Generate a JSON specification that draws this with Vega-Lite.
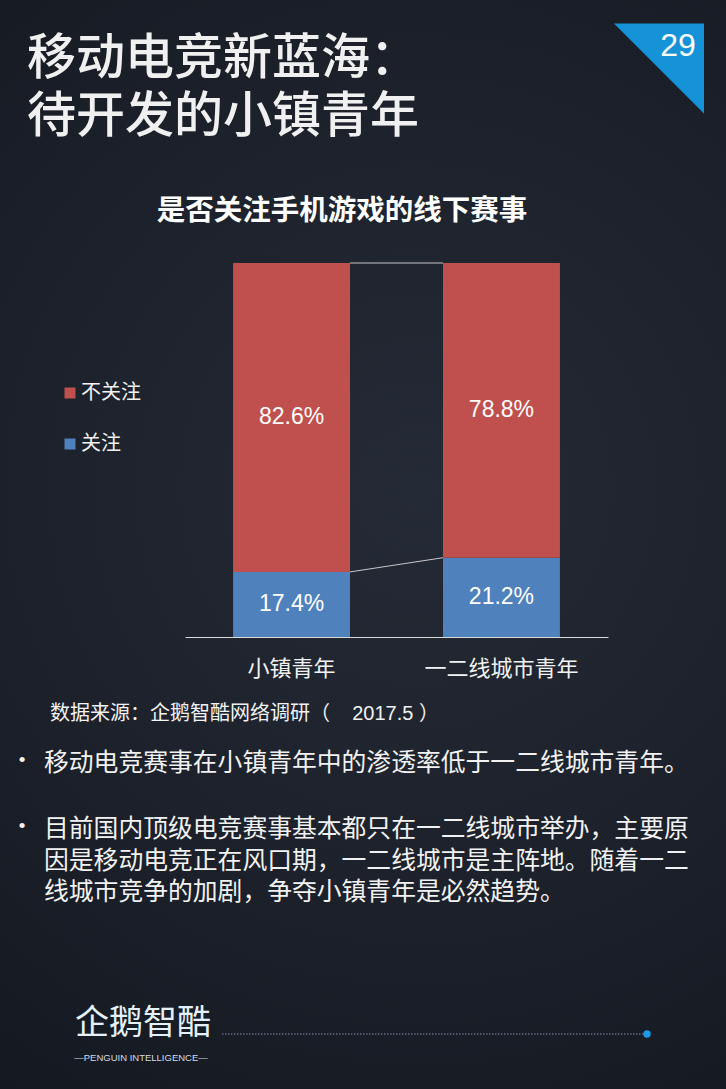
{
  "$schema": "https://vega.github.io/schema/vega-lite/v6.json",
  "width": 726,
  "height": 1089,
  "autosize": {"type": "fit", "contains": "padding"},
  "padding": 0,
  "background": "#161a22",
  "config": {
    "view": {"stroke": null, "fill": {"gradient": "radial", "x1": 0.55, "y1": 0.45, "x2": 0.55, "y2": 0.45, "r1": 0, "r2": 0.8, "stops": [{"offset": 0, "color": "#252b36"}, {"offset": 1, "color": "#11151d"}]}},
    "font": "Liberation Sans, Noto Sans CJK SC",
    "text": {"font": "Liberation Sans, Noto Sans CJK SC"}
  },
  "datasets": {
    "survey": [
      {"group": "小镇青年", "status": "关注", "pct": 0.174},
      {"group": "小镇青年", "status": "不关注", "pct": 0.826},
      {"group": "一二线城市青年", "status": "关注", "pct": 0.212},
      {"group": "一二线城市青年", "status": "不关注", "pct": 0.788}
    ],
    "links": [
      {"from": "小镇青年", "to": "一二线城市青年", "left": 0.174, "right": 0.212},
      {"from": "小镇青年", "to": "一二线城市青年", "left": 1, "right": 1}
    ],
    "headline": [
      {"line": 1, "text": "移动电竞新蓝海："},
      {"line": 2, "text": "待开发的小镇青年"}
    ],
    "page": [{"page": "29"}],
    "chart_title": [{"text": "是否关注手机游戏的线下赛事"}],
    "source": [{"text": "数据来源：企鹅智酷网络调研（\u00a0\u00a0\u00a0\u00a02017.5\u00a0）"}],
    "bullets": [
      {"para": 1, "text": "移动电竞赛事在小镇青年中的渗透率低于一二线城市青年。"},
      {"para": 2, "text": "目前国内顶级电竞赛事基本都只在一二线城市举办，主要原\n因是移动电竞正在风口期，一二线城市是主阵地。随着一二\n线城市竞争的加剧，争夺小镇青年是必然趋势。"}
    ],
    "brand": [{"name": "企鹅智酷", "tagline": "—PENGUIN INTELLIGENCE—"}],
    "footer": [{"pos": "from"}, {"pos": "to"}]
  },
  "resolve": {"scale": {"x": "independent", "y": "independent"}},
  "layer": [
    {
      "layer": [
        {
          "data": {"name": "links"},
          "mark": {"type": "rule", "color": "#c8c8c8", "strokeWidth": 1},
          "encoding": {
            "x": {"field": "from", "type": "nominal", "bandPosition": 1, "scale": {"type": "band", "domain": ["小镇青年", "一二线城市青年"], "range": [185, 608], "paddingInner": 0.443, "paddingOuter": 0.229}, "axis": {"orient": "bottom", "offset": -452, "title": null, "ticks": false, "labelAngle": 0, "labelFontSize": 22, "labelColor": "#f2f2f2", "labelFont": "Noto Sans CJK SC", "labelBaseline": "middle", "labelPadding": 31, "domainColor": "#d9d9d9", "domainWidth": 1, "grid": false}},
            "x2": {"field": "to", "bandPosition": 0},
            "y": {"field": "left", "type": "quantitative", "scale": {"domain": [0, 1], "range": [637, 263], "nice": false}, "axis": null},
            "y2": {"field": "right"}
          }
        },
        {
          "data": {"name": "survey"},
          "mark": {"type": "bar"},
          "encoding": {
            "x": {"field": "group", "type": "nominal", "scale": {"type": "band", "domain": ["小镇青年", "一二线城市青年"], "range": [185, 608], "paddingInner": 0.443, "paddingOuter": 0.229}, "axis": {"orient": "bottom", "offset": -452, "title": null, "ticks": false, "labelAngle": 0, "labelFontSize": 22, "labelColor": "#f2f2f2", "labelFont": "Noto Sans CJK SC", "labelBaseline": "middle", "labelPadding": 31, "domainColor": "#d9d9d9", "domainWidth": 1, "grid": false}},
            "y": {"field": "pct", "type": "quantitative", "stack": "zero", "scale": {"domain": [0, 1], "range": [637, 263], "nice": false}, "axis": null},
            "color": {"field": "status", "type": "nominal", "scale": {"domain": ["不关注", "关注"], "range": ["#c0504d", "#4f81bd"]}, "legend": {"orient": "none", "legendX": 60, "legendY": 383, "direction": "vertical", "title": null, "symbolType": "square", "symbolSize": 121, "symbolStrokeWidth": 0, "labelFontSize": 20, "labelColor": "#f2f2f2", "labelFont": "Noto Sans CJK SC", "labelOffset": 1, "rowPadding": 31, "padding": 0}},
            "order": {"field": "status", "sort": "descending"}
          }
        },
        {
          "data": {"name": "survey"},
          "mark": {"type": "text", "color": "#ffffff", "fontSize": 23, "font": "Liberation Sans", "align": "center", "baseline": "middle"},
          "encoding": {
            "x": {"field": "group", "type": "nominal", "scale": {"type": "band", "domain": ["小镇青年", "一二线城市青年"], "range": [185, 608], "paddingInner": 0.443, "paddingOuter": 0.229}, "axis": {"orient": "bottom", "offset": -452, "title": null, "ticks": false, "labelAngle": 0, "labelFontSize": 22, "labelColor": "#f2f2f2", "labelFont": "Noto Sans CJK SC", "labelBaseline": "middle", "labelPadding": 31, "domainColor": "#d9d9d9", "domainWidth": 1, "grid": false}},
            "y": {"field": "pct", "type": "quantitative", "stack": "zero", "bandPosition": 0.5, "scale": {"domain": [0, 1], "range": [637, 263], "nice": false}, "axis": null},
            "detail": {"field": "status"},
            "order": {"field": "status", "sort": "descending"},
            "text": {"field": "pct", "type": "quantitative", "format": ".1%"}
          }
        }
      ]
    },
    {
      "data": {"name": "headline"},
      "mark": {"type": "text", "align": "left", "baseline": "middle", "fontSize": 49, "fontWeight": 500, "color": "#f0f0f0"},
      "encoding": {
        "x": {"field": "line", "type": "ordinal", "scale": {"type": "point", "domain": [1, 2], "range": [27, 27]}, "axis": null},
        "y": {"field": "line", "type": "ordinal", "scale": {"type": "point", "domain": [1, 2], "range": [59, 117], "padding": 0}, "axis": null},
        "text": {"field": "text"}
      }
    },
    {
      "data": {"name": "page"},
      "mark": {"type": "point", "shape": "M-1,-1L1,-1L1,1Z", "size": 8100, "filled": true, "color": "#1592d8", "opacity": 1, "strokeWidth": 0},
      "encoding": {
        "x": {"field": "page", "type": "nominal", "scale": {"type": "point", "range": [614, 704]}, "axis": null},
        "y": {"field": "page", "type": "nominal", "scale": {"type": "point", "range": [24, 113]}, "axis": null}
      }
    },
    {
      "data": {"name": "page"},
      "mark": {"type": "text", "align": "center", "baseline": "middle", "fontSize": 32, "font": "Liberation Sans", "color": "#ffffff"},
      "encoding": {
        "x": {"field": "page", "type": "nominal", "scale": {"type": "point", "range": [660, 696]}, "axis": null},
        "y": {"field": "page", "type": "nominal", "scale": {"type": "point", "range": [34, 57]}, "axis": null},
        "text": {"field": "page"}
      }
    },
    {
      "data": {"name": "chart_title"},
      "mark": {"type": "text", "align": "center", "baseline": "middle", "fontSize": 28.5, "fontWeight": "bold", "color": "#ffffff"},
      "encoding": {
        "x": {"field": "text", "type": "nominal", "scale": {"type": "point", "range": [157, 527]}, "axis": null},
        "y": {"field": "text", "type": "nominal", "scale": {"type": "point", "range": [199, 223]}, "axis": null},
        "text": {"field": "text"}
      }
    },
    {
      "data": {"name": "source"},
      "mark": {"type": "text", "align": "left", "baseline": "middle", "fontSize": 20, "color": "#f2f2f2"},
      "encoding": {
        "x": {"field": "text", "type": "nominal", "scale": {"type": "point", "range": [50, 50]}, "axis": null},
        "y": {"field": "text", "type": "nominal", "scale": {"type": "point", "range": [713.5, 713.5]}, "axis": null},
        "text": {"field": "text"}
      }
    },
    {
      "data": {"name": "bullets"},
      "resolve": {"scale": {"x": "independent"}},
      "layer": [
        {
          "mark": {"type": "text", "text": "•", "align": "center", "baseline": "top", "fontSize": 19, "font": "Liberation Sans", "color": "#f2f2f2"},
          "encoding": {
            "x": {"field": "para", "type": "ordinal", "scale": {"type": "point", "domain": [1, 2], "range": [22, 22]}, "axis": null},
            "y": {"field": "para", "type": "ordinal", "scale": {"type": "point", "domain": [1, 2], "range": [751, 817], "padding": 0}, "axis": null}
          }
        },
        {
          "mark": {"type": "text", "align": "left", "baseline": "top", "fontSize": 24.8, "lineHeight": 31.5, "lineBreak": "\n", "color": "#f2f2f2"},
          "encoding": {
            "x": {"field": "para", "type": "ordinal", "scale": {"type": "point", "domain": [1, 2], "range": [44, 44]}, "axis": null},
            "y": {"field": "para", "type": "ordinal", "scale": {"type": "point", "domain": [1, 2], "range": [750, 816], "padding": 0}, "axis": null},
            "text": {"field": "text"}
          }
        }
      ]
    },
    {
      "data": {"name": "brand"},
      "mark": {"type": "text", "align": "left", "baseline": "middle", "fontSize": 34, "color": "#e3f1fa"},
      "encoding": {
        "x": {"field": "name", "type": "nominal", "scale": {"type": "point", "range": [75, 75]}, "axis": null},
        "y": {"field": "name", "type": "nominal", "scale": {"type": "point", "range": [1024, 1024]}, "axis": null},
        "text": {"field": "name"}
      }
    },
    {
      "data": {"name": "brand"},
      "mark": {"type": "text", "align": "center", "baseline": "middle", "fontSize": 9.5, "font": "Liberation Sans", "color": "#cfdbe6"},
      "encoding": {
        "x": {"field": "tagline", "type": "nominal", "scale": {"type": "point", "range": [141, 141]}, "axis": null},
        "y": {"field": "tagline", "type": "nominal", "scale": {"type": "point", "range": [1058, 1058]}, "axis": null},
        "text": {"field": "tagline"}
      }
    },
    {
      "data": {"name": "footer"},
      "layer": [
        {
          "mark": {"type": "line", "color": "#7f8db5", "strokeWidth": 1, "strokeDash": [1.5, 1.5]},
          "encoding": {
            "x": {"field": "pos", "type": "nominal", "scale": {"type": "point", "domain": ["from", "to"], "range": [222, 647], "padding": 0}, "axis": null},
            "y": {"field": "pos", "type": "nominal", "scale": {"type": "point", "domain": ["from", "to"], "range": [1034, 1034], "padding": 0}, "axis": null}
          }
        },
        {
          "transform": [{"filter": "datum.pos === 'to'"}],
          "mark": {"type": "point", "filled": true, "color": "#1b9ce8", "opacity": 1, "size": 55, "strokeWidth": 0},
          "encoding": {
            "x": {"field": "pos", "type": "nominal", "scale": {"type": "point", "domain": ["from", "to"], "range": [222, 647], "padding": 0}, "axis": null},
            "y": {"field": "pos", "type": "nominal", "scale": {"type": "point", "domain": ["from", "to"], "range": [1034, 1034], "padding": 0}, "axis": null}
          }
        }
      ]
    }
  ]
}
